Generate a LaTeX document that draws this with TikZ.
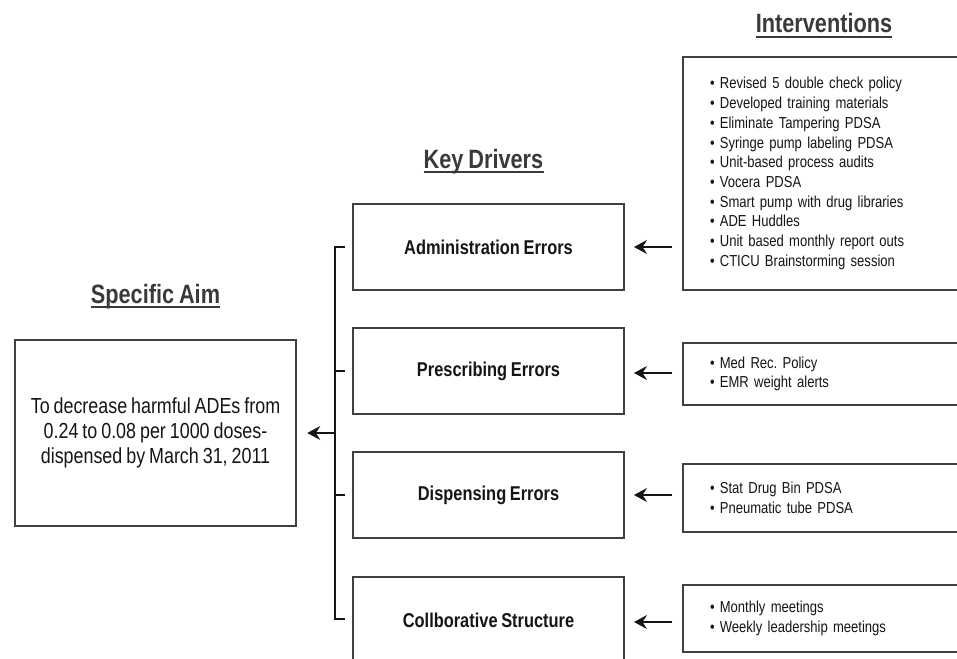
\documentclass[tikz,border=0pt]{standalone}
\usepackage{fontspec}
\setmainfont[FakeStretch=0.82,WordSpace=0.8]{Liberation Sans}
\usetikzlibrary{arrows.meta}
\definecolor{bord}{HTML}{404040}
\definecolor{txt}{HTML}{151515}
\definecolor{hdr}{HTML}{3A3A3A}
\frenchspacing
\tikzset{
  box/.style={draw=bord, line width=2.6pt, fill=white, text=txt, inner sep=0pt},
  drv/.style={box, minimum width=271pt, minimum height=86pt, font=\bfseries\fontsize{20}{24}\selectfont},
  intv/.style={box, minimum width=279pt, align=left, text width=225pt, inner xsep=27pt, font=\fontsize{15.9}{19.7}\selectfont},
  head/.style={inner sep=0pt, text=hdr, font=\bfseries\fontsize{26.5}{28}\selectfont, anchor=base},
  uline/.style={draw=hdr, line width=1.8pt},
  conn/.style={draw=txt, line width=1.4pt},
  arr/.style={conn, -{Stealth[length=13pt,width=14pt,inset=4.5pt]}}
}
\begin{document}
\begin{tikzpicture}[x=1pt,y=-1pt]
\useasboundingbox (0,0) rectangle (957,658);
\fill[white] (0,0) rectangle (957,658);
% headers
\node[head] (hI) at (824,33) {Interventions};
\node[head] (hK) at (483.5,168) {Key Drivers};
\node[head] (hS) at (155.5,303) {Specific Aim};
\foreach \h in {hI,hK,hS}{\draw[uline] ([yshift=-4pt]\h.base west) -- ([yshift=-4pt]\h.base east);}
% aim
\node[box, minimum width=281pt, minimum height=186pt, align=center, font=\fontsize{21.8}{25}\selectfont] (aim) at (155.5,433) {To decrease harmful ADEs from\\0.24 to 0.08 per 1000 doses-\\dispensed by March 31, 2011};
% drivers
\node[drv] (d1) at (488.5,247) {Administration Errors};
\node[drv] (d2) at (488.5,371) {Prescribing Errors};
\node[drv] (d3) at (488.5,495) {Dispensing Errors};
\node[drv] (d4) at (488.5,620) {Collborative Structure};
% interventions
\node[intv, minimum height=233pt] (i1) at (822.5,173.5) {\textbullet\ Revised 5 double check policy\\\textbullet\ Developed training materials\\\textbullet\ Eliminate Tampering PDSA\\\textbullet\ Syringe pump labeling PDSA\\\textbullet\ Unit-based process audits\\\textbullet\ Vocera PDSA\\\textbullet\ Smart pump with drug libraries\\\textbullet\ ADE Huddles\\\textbullet\ Unit based monthly report outs\\\textbullet\ CTICU Brainstorming session};
\node[intv, minimum height=62pt] (i2) at (822.5,374) {\textbullet\ Med Rec. Policy\\\textbullet\ EMR weight alerts};
\node[intv, minimum height=68pt] (i3) at (822.5,498) {\textbullet\ Stat Drug Bin PDSA\\\textbullet\ Pneumatic tube PDSA};
\node[intv, minimum height=67pt] (i4) at (822.5,618.5) {\textbullet\ Monthly meetings\\\textbullet\ Weekly leadership meetings};
% arrows interventions -> drivers
\foreach \i/\y in {1/247,2/373,3/495,4/622}{
  \coordinate (s\i) at (672,\y);
  \coordinate (e\i) at (634,\y);
  \draw[arr] (s\i) -- (e\i);
}
% bracket
\coordinate (b1) at (335,247);
\coordinate (b4) at (335,619);
\coordinate (bm) at (335,433);
\draw[conn] ([xshift=10pt]b1) -- (b1) -- (b4) -- ([xshift=10pt]b4);
\foreach \y in {371,495}{\draw[conn] (335,\y) -- (345,\y);}
\draw[arr] (bm) -- ([xshift=10pt]aim.east);
\end{tikzpicture}
\end{document}
